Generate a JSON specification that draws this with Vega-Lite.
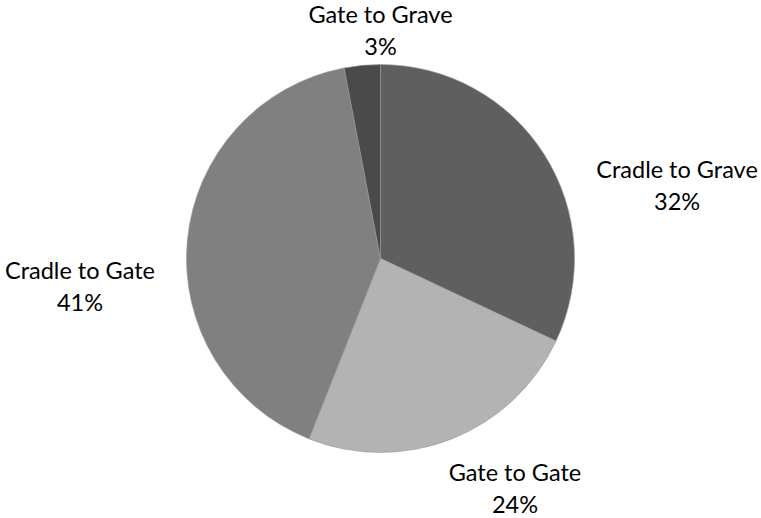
{
  "$schema": "https://vega.github.io/schema/vega-lite/v6.json",
  "autosize": {"type": "fit", "contains": "padding"},
  "width": 761,
  "height": 518,
  "padding": 0,
  "background": "white",
  "config": {"view": {"stroke": null}, "text": {"font": "Lato", "fontSize": 23.5, "color": "#000000", "baseline": "middle", "align": "center"}},
  "data": {
    "values": [
      {"category": "Cradle to Grave", "share": 0.32, "rank": 1},
      {"category": "Gate to Gate", "share": 0.24, "rank": 2},
      {"category": "Cradle to Gate", "share": 0.41, "rank": 3},
      {"category": "Gate to Grave", "share": 0.03, "rank": 4}
    ]
  },
  "layer": [
    {
      "mark": {"type": "arc", "outerRadius": 194, "stroke": "#9a9a9a", "strokeWidth": 0.6},
      "encoding": {
        "theta": {"field": "share", "type": "quantitative", "stack": true},
        "order": {"field": "rank", "type": "quantitative"},
        "color": {
          "field": "category",
          "type": "nominal",
          "legend": null,
          "scale": {
            "domain": ["Cradle to Grave", "Gate to Gate", "Cradle to Gate", "Gate to Grave"],
            "range": ["#5f5f5f", "#b3b3b3", "#808080", "#4a4a4a"]
          }
        }
      }
    },
    {
      "transform": [{"filter": "datum.category === 'Cradle to Grave'"}],
      "mark": {"type": "text", "theta": 1.335, "radius": 305, "dy": -16},
      "encoding": {"text": {"field": "category", "type": "nominal"}}
    },
    {
      "transform": [{"filter": "datum.category === 'Cradle to Grave'"}],
      "mark": {"type": "text", "theta": 1.335, "radius": 305, "dy": 16},
      "encoding": {"text": {"field": "share", "type": "quantitative", "format": ".0%"}}
    },
    {
      "transform": [{"filter": "datum.category === 'Gate to Gate'"}],
      "mark": {"type": "text", "theta": 2.616, "radius": 268, "dy": -16},
      "encoding": {"text": {"field": "category", "type": "nominal"}}
    },
    {
      "transform": [{"filter": "datum.category === 'Gate to Gate'"}],
      "mark": {"type": "text", "theta": 2.616, "radius": 268, "dy": 16},
      "encoding": {"text": {"field": "share", "type": "quantitative", "format": ".0%"}}
    },
    {
      "transform": [{"filter": "datum.category === 'Cradle to Gate'"}],
      "mark": {"type": "text", "theta": 4.613, "radius": 302, "dy": -16},
      "encoding": {"text": {"field": "category", "type": "nominal"}}
    },
    {
      "transform": [{"filter": "datum.category === 'Cradle to Gate'"}],
      "mark": {"type": "text", "theta": 4.613, "radius": 302, "dy": 16},
      "encoding": {"text": {"field": "share", "type": "quantitative", "format": ".0%"}}
    },
    {
      "transform": [{"filter": "datum.category === 'Gate to Grave'"}],
      "mark": {"type": "text", "theta": 0, "radius": 227, "dy": -16},
      "encoding": {"text": {"field": "category", "type": "nominal"}}
    },
    {
      "transform": [{"filter": "datum.category === 'Gate to Grave'"}],
      "mark": {"type": "text", "theta": 0, "radius": 227, "dy": 16},
      "encoding": {"text": {"field": "share", "type": "quantitative", "format": ".0%"}}
    }
  ]
}
